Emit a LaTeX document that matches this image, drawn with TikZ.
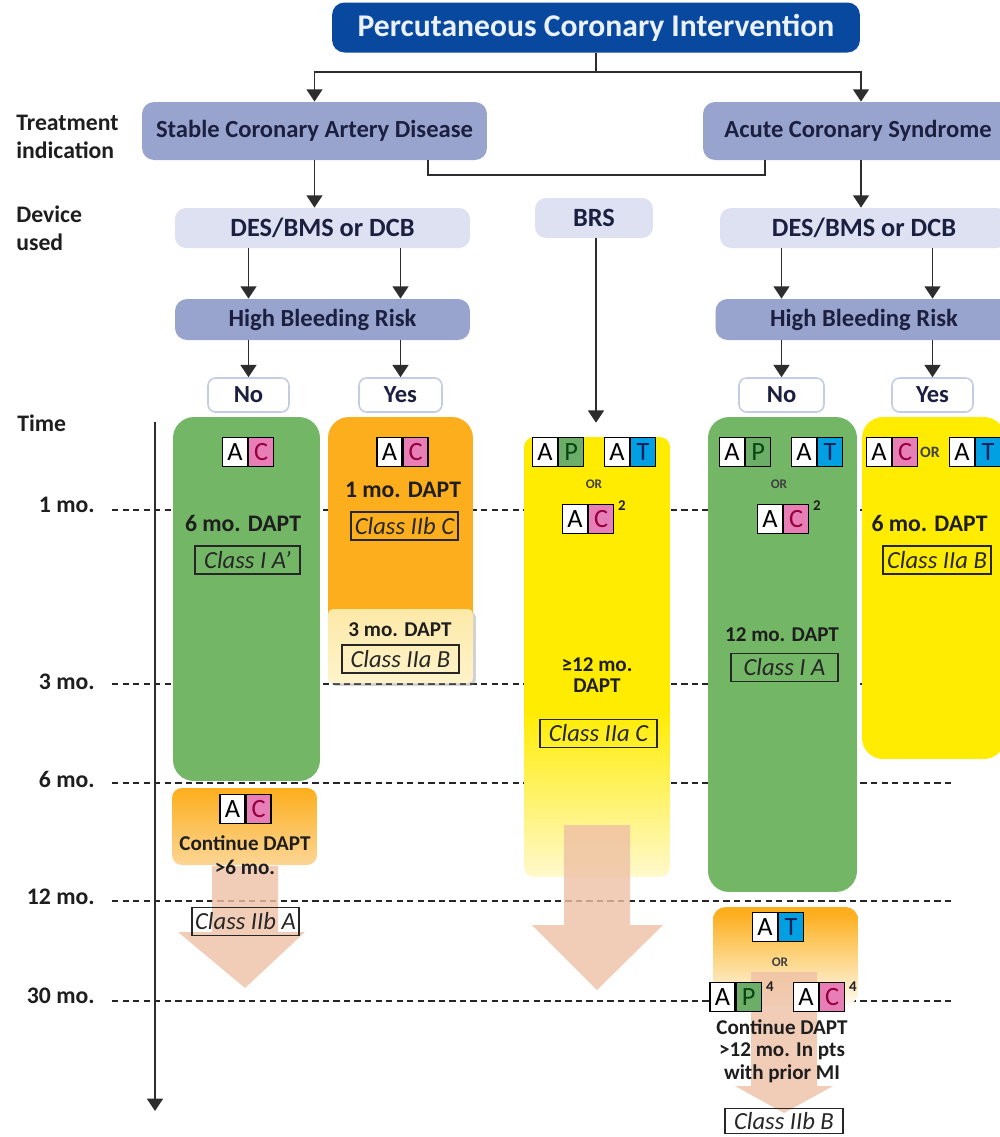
\documentclass[tikz,border=0pt]{standalone}
\usepackage{fontspec}
\setmainfont{Carlito}
\usetikzlibrary{arrows.meta,shadows}

\definecolor{titleblue}{RGB}{8,72,158}
\definecolor{titletext}{RGB}{235,242,255}
\definecolor{midblue}{RGB}{153,164,206}
\definecolor{lightblue}{RGB}{221,225,242}
\definecolor{navy}{RGB}{28,32,64}
\definecolor{ynborder}{RGB}{195,205,228}
\definecolor{linec}{RGB}{45,45,45}
\definecolor{txtdark}{RGB}{30,30,30}
\definecolor{grn}{RGB}{114,182,102}
\definecolor{orng}{RGB}{253,174,28}
\definecolor{ylw}{RGB}{255,236,0}
\definecolor{ylwpale}{RGB}{255,249,205}
\definecolor{paleyel}{RGB}{253,233,168}
\definecolor{paleyel2}{RGB}{254,243,202}
\definecolor{orpale}{RGB}{254,246,232}
\definecolor{ormid}{RGB}{253,212,128}
\definecolor{orlight}{RGB}{252,214,150}
\definecolor{peach}{RGB}{238,192,165}
\definecolor{pinkc}{RGB}{232,126,182}
\definecolor{pinkt}{RGB}{150,0,62}
\definecolor{grnc}{RGB}{108,174,104}
\definecolor{grnt}{RGB}{10,70,20}
\definecolor{bluec}{RGB}{0,160,226}
\definecolor{bluet}{RGB}{10,32,90}

\pgfdeclareverticalshading{brsfade}{100bp}{color(0bp)=(ylwpale); color(25bp)=(ylwpale); color(44bp)=(ylw); color(100bp)=(ylw)}
\pgfdeclareverticalshading{orfade}{100bp}{color(0bp)=(orpale); color(27bp)=(orpale); color(50bp)=(ormid); color(72bp)=(orng); color(100bp)=(orng)}

\newcommand{\szTitle}{\fontsize{18}{21}\selectfont}
\newcommand{\szBox}{\fontsize{14}{17}\selectfont}
\newcommand{\szDev}{\fontsize{15}{18}\selectfont}
\newcommand{\szBig}{\fontsize{13.5}{16}\selectfont}
\newcommand{\szMed}{\fontsize{12}{14}\selectfont}
\newcommand{\szCls}{\fontsize{14}{16}\selectfont}
\newcommand{\szCell}{\fontsize{15}{17}\selectfont}
\newcommand{\szOr}{\fontsize{7.5}{9}\selectfont}
\newcommand{\szSup}{\fontsize{8.5}{10}\selectfont}
\newcommand{\szAx}{\fontsize{13.5}{16}\selectfont}

\newcommand{\abadge}[5]{%
  \node[cellA, anchor=east] (#1a) at (#2,#3) {A};
  \node[cell#5, anchor=west] (#1b) at (#2,#3) {#4};}

\begin{document}
\begin{tikzpicture}[x=0.02cm,y=-0.02cm,
  conn/.style={draw=linec, line width=1.1pt},
  arr/.style={conn, -{Triangle[width=9pt,length=7pt]}},
  topbox/.style={rectangle, rounded corners=0.25cm, fill=titleblue, text=titletext, font=\bfseries\szTitle, inner sep=0},
  midbox/.style={rectangle, rounded corners=0.24cm, fill=midblue, text=navy, font=\bfseries\szBox, inner sep=0},
  lightbox/.style={rectangle, rounded corners=0.22cm, fill=lightblue, text=navy, font=\bfseries\szDev, inner sep=0},
  ynbox/.style={rectangle, rounded corners=0.15cm, fill=white, draw=ynborder, line width=0.9pt, text=navy, font=\bfseries\szBox, inner sep=0},
  col/.style={rectangle, rounded corners=0.42cm, inner sep=0},
  cls/.style={draw=black!85, line width=0.6pt, font=\itshape\szCls, inner sep=1pt, minimum height=0.56cm, text=black!85},
  cellbase/.style={draw=black, line width=0.7pt, minimum width=0.5cm, minimum height=0.58cm, inner sep=0, font=\szCell},
  cellA/.style={cellbase, fill=white, text=black},
  cellC/.style={cellbase, fill=pinkc, text=pinkt},
  cellP/.style={cellbase, fill=grnc, text=grnt},
  cellT/.style={cellbase, fill=bluec, text=bluet},
  dapt/.style={font=\bfseries\szBig, text=txtdark, inner sep=0},
  daptm/.style={font=\bfseries\szMed, text=txtdark, inner sep=0, align=center},
  ortxt/.style={font=\bfseries\szOr, text=black!75, inner sep=0},
  suptxt/.style={font=\bfseries\szSup, text=txtdark, inner sep=0},
  axlbl/.style={font=\bfseries\szAx, text=txtdark, inner sep=0},
  tline/.style={draw=black!85, line width=0.7pt, dash pattern=on 3.6pt off 2.4pt},
  peacharrow/.style={fill=peach, fill opacity=0.8}
]
\useasboundingbox (0,0) rectangle (1000,1137);
\clip (0,0) rectangle (1000,1137);
\fill[white] (0,0) rectangle (1000,1137);

% ---- time grid ----
\foreach \yy in {510,684,783,901,1001} \draw[tline] (112,\yy) -- (953,\yy);

% ---- header boxes ----
\node[topbox, minimum width=10.56cm, minimum height=1cm] (title) at (596,27.5) {Percutaneous Coronary Intervention};
\node[midbox, minimum width=6.9cm, minimum height=1.16cm] (scad) at (314.5,131) {Stable Coronary Artery Disease};
\node[midbox, minimum width=6.32cm, minimum height=1.16cm] (acs) at (861,131) {\hspace*{-0.12cm}Acute Coronary Syndrome};
\node[lightbox, minimum width=5.9cm, minimum height=0.8cm] (des1) at (322.5,228) {DES/BMS or DCB};
\node[lightbox, minimum width=2.36cm, minimum height=0.8cm] (brs) at (594,218) {BRS};
\node[lightbox, minimum width=5.76cm, minimum height=0.8cm] (des2) at (864,228) {DES/BMS or DCB};
\node[midbox, minimum width=5.9cm, minimum height=0.82cm] (hbr1) at (322.5,319.5) {High Bleeding Risk};
\node[midbox, minimum width=5.94cm, minimum height=0.82cm] (hbr2) at (864,319.5) {High Bleeding Risk};
\node[ynbox, minimum width=1.62cm, minimum height=0.68cm] (no1) at (248.5,395) {No};
\node[ynbox, minimum width=1.66cm, minimum height=0.68cm] (yes1) at (400.5,395) {Yes};
\node[ynbox, minimum width=1.7cm, minimum height=0.68cm] (no2) at (781.5,395) {No};
\node[ynbox, minimum width=1.62cm, minimum height=0.68cm] (yes2) at (932.5,395) {Yes};

% ---- left labels ----
\node[axlbl, anchor=west, align=left] (lblTI) at (16,137) {Treatment\\indication};
\node[axlbl, anchor=west, align=left] (lblDU) at (16,228) {Device\\used};
\node[axlbl, anchor=west] (lblTime) at (17,423) {Time};
\node[axlbl, anchor=east] (m1) at (95,505) {1 mo.};
\node[axlbl, anchor=east] (m3) at (95,682) {3 mo.};
\node[axlbl, anchor=east] (m6) at (95,779) {6 mo.};
\node[axlbl, anchor=east] (m12) at (95,897) {12 mo.};
\node[axlbl, anchor=east] (m30) at (95,996) {30 mo.};

% ---- columns ----
\node[col, fill=grn, minimum width=2.94cm, minimum height=7.28cm] (gL) at (246.5,599) {};
\node[col, fill=orng, minimum width=2.9cm, minimum height=5.26cm] (oL) at (400.5,548.5) {};
\node[rectangle, rounded corners=0.1cm, inner sep=0, top color=paleyel, bottom color=paleyel2,
      drop shadow={shadow xshift=1.6pt, shadow yshift=-1.6pt, opacity=0.35},
      minimum width=2.9cm, minimum height=1.48cm] (pL) at (400.5,646) {};
\node[col, rounded corners=0.2cm, shade, shading=brsfade, minimum width=2.92cm, minimum height=8.8cm] (yB) at (597,657) {};
\node[col, fill=grn, minimum width=2.98cm, minimum height=9.5cm] (gR) at (782.5,654.5) {};
\node[col, fill=ylw, minimum width=2.86cm, minimum height=6.84cm] (yR) at (933.5,588) {};
\node[col, rounded corners=0.2cm, top color=orng, bottom color=orlight, minimum width=2.9cm, minimum height=1.54cm] (oBL) at (244.5,826.5) {};
\node[col, rounded corners=0.25cm, shade, shading=orfade, minimum width=2.9cm, minimum height=1.96cm] (oBR) at (785.5,956) {};

% ---- big peach arrows ----
\fill[peacharrow] (564,825) -- (630,825) -- (630,925) -- (663,925) -- (597,990) -- (532,925) -- (564,925) -- cycle;
\fill[peacharrow] (212,866) -- (278,866) -- (278,932) -- (305,932) -- (245,988) -- (178,932) -- (212,932) -- cycle;
\fill[peacharrow] (751,972) -- (817,972) -- (817,1086) -- (833,1086) -- (784,1113) -- (735,1086) -- (751,1086) -- cycle;

% ---- column contents ----
% green left
\abadge{bgL}{248}{452}{C}{C}
\node[dapt] (tgL) at (243,523) {6 mo. DAPT};
\node[cls, minimum width=2.1cm] (cgL) at (247.5,560) {Class I A’};
% orange left
\abadge{boL}{402.5}{452}{C}{C}
\node[dapt] (toL) at (403,490) {1 mo. DAPT};
\node[cls, minimum width=2.14cm] (coL) at (404.5,526) {Class IIb C};
% pale 3 mo
\node[daptm] (tpL) at (400,630) {3 mo. DAPT};
\node[cls, minimum width=2.34cm] (cpL) at (400.5,659) {Class IIa B};
% BRS yellow
\abadge{bPy}{558}{452}{P}{P}
\abadge{bTy}{630}{452}{T}{T}
\node[ortxt] (oryB) at (594,484) {OR};
\abadge{bCy}{588}{519}{C}{C}
\node[suptxt] (s2y) at (622,506) {2};
\node[daptm] (tyB) at (597,675.5) {≥12 mo.\\[-2pt]DAPT};
\node[cls, minimum width=2.34cm] (cyB) at (598.5,733.5) {Class IIa C};
% green right
\abadge{bPg}{745}{452}{P}{P}
\abadge{bTg}{817}{452}{T}{T}
\node[ortxt] (orgR) at (779,484) {OR};
\abadge{bCg}{783}{519}{C}{C}
\node[suptxt] (s2g) at (817,506) {2};
\node[daptm] (tgR) at (782,635) {12 mo. DAPT};
\node[cls, minimum width=2.14cm] (cgR) at (784.5,667.5) {Class I A};
% yellow right
\abadge{bCr}{892}{452}{C}{C}
\node[ortxt, font=\bfseries\fontsize{9}{10}\selectfont] (oryR) at (930,452) {OR};
\abadge{bTr}{975}{452}{T}{T}
\node[dapt] (tyR) at (929.5,523) {6 mo. DAPT};
\node[cls, minimum width=2.16cm] (cyR) at (937,560) {Class IIa B};
% orange bottom left
\abadge{bCbl}{245.5}{809}{C}{C}
\node[daptm, font=\bfseries\fontsize{12}{13.6}\selectfont] (tBL) at (245,855) {Continue DAPT\\>6 mo.};
\node[cls, minimum width=2.14cm] (cBL) at (245.5,921.5) {Class IIb A};
% orange bottom right
\abadge{bTbr}{778}{927}{T}{T}
\node[ortxt] (orBR) at (780,962) {OR};
\abadge{bPbr}{735.5}{997}{P}{P}
\node[suptxt] (s4a) at (770,987) {4};
\abadge{bCbr}{819}{997}{C}{C}
\node[suptxt] (s4b) at (853,987) {4};
\node[daptm, font=\bfseries\fontsize{12}{12.75}\selectfont] (tBR) at (782,1051) {Continue DAPT\\>12 mo. In pts\\with prior MI};
\node[cls, minimum width=2.36cm, minimum height=0.5cm] (cBR) at (784,1121) {Class IIb B};

% ---- connectors ----
\draw[arr] (title.south) -- ++(0,19.5) -| (scad.north);
\draw[arr] (title.south) -- ++(0,19.5) -| (acs.north);
\draw[conn] ([xshift=2.27cm]scad.south) -- ++(0,15) -| ([xshift=-1.92cm]acs.south);
\draw[arr] (scad.south) -- (scad.south |- des1.north);
\draw[arr] (acs.south) -- (acs.south |- des2.north);
\draw[arr] (no1.center |- des1.south) -- (no1.center |- hbr1.north);
\draw[arr] (yes1.center |- des1.south) -- (yes1.center |- hbr1.north);
\draw[arr] (no2.center |- des2.south) -- (no2.center |- hbr2.north);
\draw[arr] (yes2.center |- des2.south) -- (yes2.center |- hbr2.north);
\draw[arr] (no1.center |- hbr1.south) -- (no1.north);
\draw[arr] (yes1.center |- hbr1.south) -- (yes1.north);
\draw[arr] (no2.center |- hbr2.south) -- (no2.north);
\draw[arr] (yes2.center |- hbr2.south) -- (yes2.north);
\draw[arr, shorten >=0.28cm] ([xshift=0.04cm]brs.south) -- ([xshift=0.04cm]brs.south |- yB.north);

% ---- time axis ----
\coordinate (t0) at (155,422);
\coordinate (t1) at (155,1111);
\draw[arr] (t0) -- (t1);
\end{tikzpicture}
\end{document}
